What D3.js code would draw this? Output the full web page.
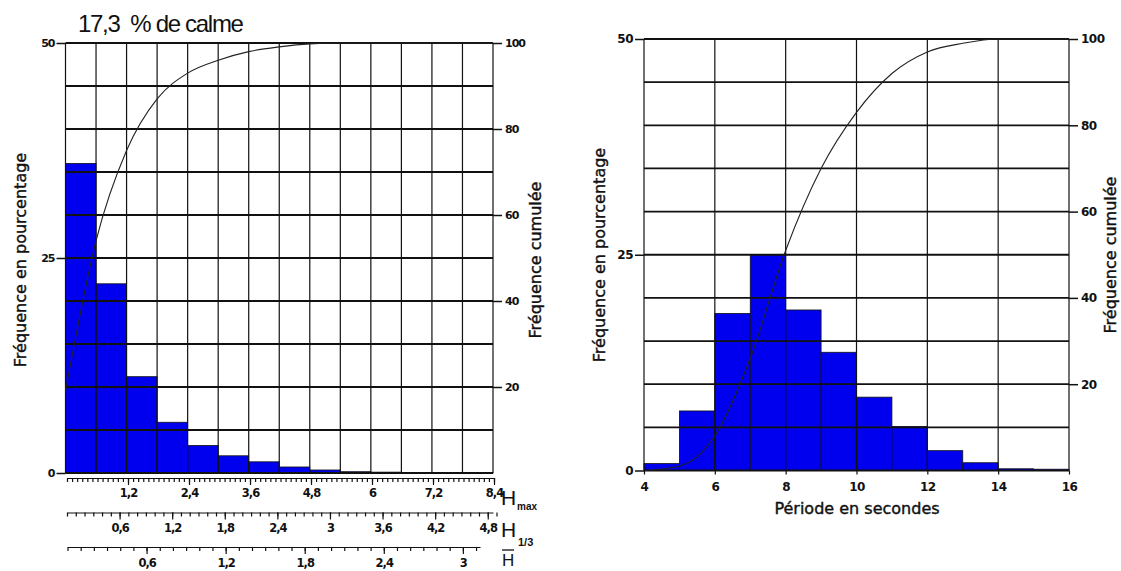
<!DOCTYPE html>
<html>
<head>
<meta charset="utf-8">
<script src="https://cdnjs.cloudflare.com/ajax/libs/d3/7.8.5/d3.min.js"></script>
<style>
body { margin: 0; background: #fff; }
svg text { font-family: "DejaVu Sans", sans-serif; fill: #111; }
</style>
</head>
<body>
<svg id="chart" width="1121" height="571"></svg>
<script>
// hauteur des vagues (Hmax), classes de 0,6 m
var hBins = [0, 0.6, 1.2, 1.8, 2.4, 3.0, 3.6, 4.2, 4.8, 5.4, 6.0, 6.6, 7.2, 7.8];
var hFreq = [36.0, 22.0, 11.2, 5.9, 3.2, 2.0, 1.3, 0.7, 0.35, 0.15, 0.1, 0.05, 0.03, 0.02];
var hCumX = [0, 0.6, 1.2, 1.8, 2.4, 3.0, 3.6, 4.2, 4.8, 5.4, 6.0, 6.6, 7.2, 7.8, 8.4];
var hCum  = [19, 54, 75, 87, 93, 96, 98, 99.1, 99.8, 100, 100, 100, 100, 100, 100];

// période, classes de 1 s
var tBins = [4, 5, 6, 7, 8, 9, 10, 11, 12, 13, 14, 15];
var tFreq = [0.8, 6.9, 18.2, 25.0, 18.6, 13.7, 8.5, 5.1, 2.3, 0.9, 0.2, 0.15];
var tCumX = [4, 5, 6, 7, 8, 9, 10, 11, 12, 13, 14, 15, 16];
var tCum  = [0, 1, 8, 26, 51, 70, 83, 92, 97, 99, 100, 100, 100];

// tick labels
var hmaxTicks = [1.2, 2.4, 3.6, 4.8, 6, 7.2, 8.4];
var h13Ticks = [0.6, 1.2, 1.8, 2.4, 3, 3.6, 4.2, 4.8];
var hbarTicks = [0.6, 1.2, 1.8, 2.4, 3];
var periodTicks = [4, 6, 8, 10, 12, 14, 16];
var freqTicks = [0, 25, 50];
var cumTicks = [20, 40, 60, 80, 100];

var fr = d3.formatLocale({decimal: ",", thousands: " ", grouping: [3], currency: ["", " €"]});
var fmt = fr.format("~g");

var svg = d3.select("#chart");
var ink = "#111";

function panel(p) {
  var x = d3.scaleLinear().domain(p.xDomain).range(p.xRange);
  var yF = d3.scaleLinear().domain([0, 50]).range(p.yRange);
  var yC = d3.scaleLinear().domain([0, 100]).range(p.yRange);
  var g = svg.append("g");

  // bars
  g.selectAll("rect.bar")
    .data(p.bins.map(function(b, i) { return {x: b, v: p.freq[i]}; }))
    .enter().append("rect")
    .attr("class", "bar")
    .attr("x", function(d) { return x(d.x); })
    .attr("width", function(d) { return x(d.x + p.binW) - x(d.x); })
    .attr("y", function(d) { return yF(d.v); })
    .attr("height", function(d) { return yF(0) - yF(d.v); })
    .style("fill", "#0000ee")
    .style("stroke", ink)
    .style("stroke-width", 0.8);

  // grid
  g.selectAll("line.hg")
    .data(d3.range(0, 51, 5))
    .enter().append("line")
    .attr("x1", x(p.xDomain[0])).attr("x2", x(p.xDomain[1]))
    .attr("y1", function(d) { return yF(d); }).attr("y2", function(d) { return yF(d); })
    .style("stroke", ink).style("stroke-width", 1.8);

  g.selectAll("line.vg")
    .data(p.gridX)
    .enter().append("line")
    .attr("x1", function(d) { return x(d); }).attr("x2", function(d) { return x(d); })
    .attr("y1", yF(0)).attr("y2", yF(50))
    .style("stroke", ink).style("stroke-width", 1.2);

  // cumulative curve
  var line = d3.line()
    .x(function(d, i) { return x(p.cumX[i]); })
    .y(function(d) { return yC(d); })
    .curve(d3.curveMonotoneX);
  g.append("path")
    .attr("d", line(p.cum))
    .style("fill", "none")
    .style("stroke", "#222")
    .style("stroke-width", 1.1);

  // y axes
  var ya = g.append("g")
    .attr("transform", "translate(" + x(p.xDomain[0]) + ",0)")
    .call(d3.axisLeft(yF).tickValues(freqTicks).tickSize(9).tickPadding(2));
  var yb = g.append("g")
    .attr("transform", "translate(" + x(p.xDomain[1]) + ",0)")
    .call(d3.axisRight(yC).tickValues(cumTicks).tickSize(9).tickPadding(3));
  [ya, yb].forEach(function(a) {
    a.select(".domain").remove();
    a.selectAll("line").style("stroke", ink).style("stroke-width", 1.5);
    a.selectAll("text")
      .style("font-size", p.tickFont + "px")
      .style("font-weight", "bold")
      .style("letter-spacing", p.tickSpacing + "px")
      .style("fill", ink);
  });

  // axis titles
  g.append("text")
    .attr("transform", "translate(" + p.leftTitleX + "," + p.titleY + ") rotate(-90)")
    .attr("text-anchor", "middle")
    .style("font-size", "16px")
    .style("stroke", ink).style("stroke-width", 0.4)
    .text("Fréquence en pourcentage");
  g.append("text")
    .attr("transform", "translate(" + p.rightTitleX + "," + p.titleY + ") rotate(-90)")
    .attr("text-anchor", "middle")
    .style("font-size", "16px")
    .style("stroke", ink).style("stroke-width", 0.4)
    .text("Fréquence cumulée");

  return {x: x, yF: yF, g: g};
}

// left panel: hauteurs
var left = panel({
  xDomain: [0, 8.4], xRange: [65.5, 493], yRange: [473, 43],
  bins: hBins, freq: hFreq, binW: 0.6, cumX: hCumX, cum: hCum, gridX: hCumX,
  tickFont: 11, tickSpacing: -1,
  leftTitleX: 26, rightTitleX: 541, titleY: 260
});

svg.append("text")
  .attr("x", 78).attr("y", 32)
  .style("font-family", "'Liberation Sans', Arial, sans-serif")
  .style("font-size", "24px")
  .style("letter-spacing", "-1.3px")
  .style("white-space", "pre")
  .text("17,3  % de calme");

// three height scales under the left panel
function heightAxis(domain, range, y, labels, labelOff) {
  var s = d3.scaleLinear().domain(domain).range(range);
  var minor = d3.range(0, Math.floor(domain[1] * 10 + 0.5) + 1).map(function(k) { return k / 10; });
  var g = svg.append("g").attr("transform", "translate(0," + y + ")");
  g.call(d3.axisBottom(s).tickValues(minor).tickSize(4).tickSizeOuter(0).tickFormat(""));
  var m = svg.append("g").attr("transform", "translate(0," + y + ")")
    .call(d3.axisBottom(s).tickValues(labels).tickSize(7).tickPadding(labelOff - 7).tickFormat(fmt));
  m.select(".domain").remove();
  [g, m].forEach(function(a) {
    a.selectAll("line, path").style("stroke", ink).style("stroke-width", 1.2);
  });
  m.selectAll("text")
    .style("font-size", "11.5px")
    .style("font-weight", "bold")
    .style("letter-spacing", "-1px")
    .style("fill", ink);
}

heightAxis([0, 8.4], [67, 494], 478, hmaxTicks, 11);
heightAxis([0, 4.86], [67, 493], 512.5, h13Ticks, 11.5);
heightAxis([0, 3.13], [67.5, 480], 547, hbarTicks, 12);

var hStyle = "'Liberation Sans', Arial, sans-serif";
svg.append("text").attr("x", 501).attr("y", 505).style("font-family", hStyle).style("font-size", "21px").text("H");
svg.append("text").attr("x", 517).attr("y", 510).style("font-family", hStyle).style("font-size", "10px").style("font-weight", "bold").text("max");
svg.append("text").attr("x", 501).attr("y", 537).style("font-family", hStyle).style("font-size", "21px").text("H");
svg.append("text").attr("x", 518).attr("y", 546).style("font-family", hStyle).style("font-size", "11px").style("font-weight", "bold").text("1/3");
svg.append("text").attr("x", 502).attr("y", 566).style("font-family", hStyle).style("font-size", "17px").text("H");
svg.append("line").attr("x1", 502).attr("x2", 514).attr("y1", 550).attr("y2", 550).style("stroke", ink).style("stroke-width", 1.3);

// right panel: périodes
var right = panel({
  xDomain: [4, 16], xRange: [644, 1069], yRange: [470.5, 39],
  bins: tBins, freq: tFreq, binW: 1, cumX: tCumX, cum: tCum, gridX: periodTicks,
  tickFont: 12, tickSpacing: -0.5,
  leftTitleX: 605, rightTitleX: 1116, titleY: 255
});

var xa = svg.append("g")
  .attr("transform", "translate(0," + right.yF(0) + ")")
  .call(d3.axisBottom(right.x).tickValues(periodTicks).tickSize(4).tickPadding(8).tickFormat(fmt));
xa.select(".domain").remove();
xa.selectAll("line").style("stroke", ink).style("stroke-width", 1.2);
xa.selectAll("text")
  .style("font-size", "12px")
  .style("font-weight", "bold")
  .style("letter-spacing", "-0.5px")
  .style("fill", ink);

svg.append("text")
  .attr("x", 857).attr("y", 514)
  .attr("text-anchor", "middle")
  .style("font-size", "16px")
  .style("stroke", ink).style("stroke-width", 0.4)
  .text("Période en secondes");
</script>
</body>
</html>
